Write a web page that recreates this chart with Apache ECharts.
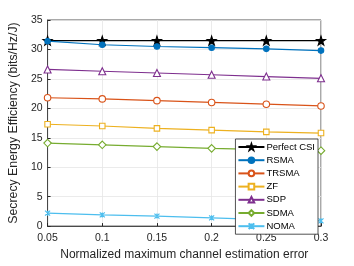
<!DOCTYPE html>
<html><head><meta charset="utf-8">
<script src="https://cdn.jsdelivr.net/npm/echarts@6/dist/echarts.min.js"></script>
<style>html,body{margin:0;padding:0;background:#fff}#c{width:354px;height:266px}</style>
</head><body><div id="c"></div>
<script>
const xValues = [0.05, 0.1, 0.15, 0.2, 0.25, 0.3];
const perfectCSI = [31.5, 31.5, 31.5, 31.5, 31.5, 31.5];
const rsma  = [31.4, 30.8, 30.5, 30.3, 30.1, 29.8];
const trsma = [21.8, 21.6, 21.3, 21.0, 20.7, 20.4];
const zf    = [17.3, 17.0, 16.6, 16.3, 16.0, 15.8];
const sdp   = [26.6, 26.3, 26.0, 25.7, 25.4, 25.1];
const sdma  = [14.1, 13.8, 13.5, 13.2, 13.0, 12.8];
const noma  = [2.2, 1.9, 1.7, 1.4, 1.1, 0.9];
const seriesNames = ['Perfect CSI','RSMA','TRSMA','ZF','SDP','SDMA','NOMA'];
const yTicks = [0,5,10,15,20,25,30,35];

const star = 'path://M50,0 L61.8,35.1 L98.9,35.1 L68.9,56.8 L80.2,91.9 L50,70.2 L19.8,91.9 L31.1,56.8 L1.1,35.1 L38.2,35.1 Z';
const xmark = 'path://M0,0 L10,10 M10,0 L0,10 M5,0 L5,10';

function pairs(arr){ return xValues.map((x,i)=>[x,arr[i]]); }
function mk(name, data, color, symbol, size, filled){
  return {
    name, type:'line', data: pairs(data), symbol, symbolSize:size,
    lineStyle:{color, width:1.2},
    itemStyle:{color: filled ? color : '#ffffff', borderColor: color, borderWidth: 1.1},
    emphasis:{disabled:true}, animation:false
  };
}
const series = [
  mk('Perfect CSI', perfectCSI, '#000000', star, 9, true),
  mk('RSMA', rsma, '#0072BD', 'circle', 5.5, true),
  mk('TRSMA', trsma, '#D95319', 'circle', 6.5, false),
  mk('ZF', zf, '#EDB120', 'rect', 5.5, false),
  mk('SDP', sdp, '#7E2F8E', 'triangle', 7, false),
  mk('SDMA', sdma, '#77AC30', 'diamond', 7.5, false),
  mk('NOMA', noma, '#4DBEEE', xmark, 5, true)
];
series[6].itemStyle = {color:'#4DBEEE', borderColor:'#4DBEEE', borderWidth:1.2};

const font = 'Liberation Sans, Arial, Helvetica, sans-serif';
const chart = echarts.init(document.getElementById('c'), null, {renderer:'canvas'});
chart.setOption({
  animation:false,
  backgroundColor:'#ffffff',
  grid:{left:46, right:33, top:20, bottom:34, show:true, borderColor:'#262626', borderWidth:0.8},
  xAxis:{
    type:'value', min:0.05, max:0.3, interval:0.05,
    name:'Normalized maximum channel estimation error', nameLocation:'middle', nameGap:21,
    nameTextStyle:{color:'#262626', fontSize:12, fontFamily:font},
    axisLine:{lineStyle:{color:'#262626', width:0.8}},
    axisTick:{inside:true, length:3, lineStyle:{color:'#262626'}},
    axisLabel:{color:'#262626', fontSize:10.5, fontFamily:font, margin:7,
      formatter:v=>String(Math.round(v*100)/100)},
    splitLine:{show:true, lineStyle:{color:'#e6e6e6', width:0.8}}
  },
  yAxis:{
    type:'value', min:0, max:35, interval:5,
    name:'Secrecy Energy Efficiency (bits/Hz/J)', nameLocation:'middle', nameGap:17,
    nameTextStyle:{color:'#262626', fontSize:12.3, fontFamily:font},
    axisLine:{show:true, lineStyle:{color:'#262626', width:0.8}},
    axisTick:{show:true, inside:true, length:3, lineStyle:{color:'#262626'}},
    axisLabel:{color:'#262626', fontSize:10.5, fontFamily:font, margin:5,
      formatter:v=> yTicks.includes(v) ? String(v) : ''},
    splitLine:{show:true, lineStyle:{color:'#e6e6e6', width:0.8}}
  },
  legend:{
    data:seriesNames, orient:'vertical', right:36, top:139,
    backgroundColor:'#ffffff', borderColor:'#262626', borderWidth:0.8,
    padding:[3,3,3,2], itemGap:3.2, itemWidth:26, itemHeight:7,
    textStyle:{fontSize:9.5, color:'#000', fontFamily:font, padding:[0,0,0,-3]}
  },
  series
});
</script></body></html>
